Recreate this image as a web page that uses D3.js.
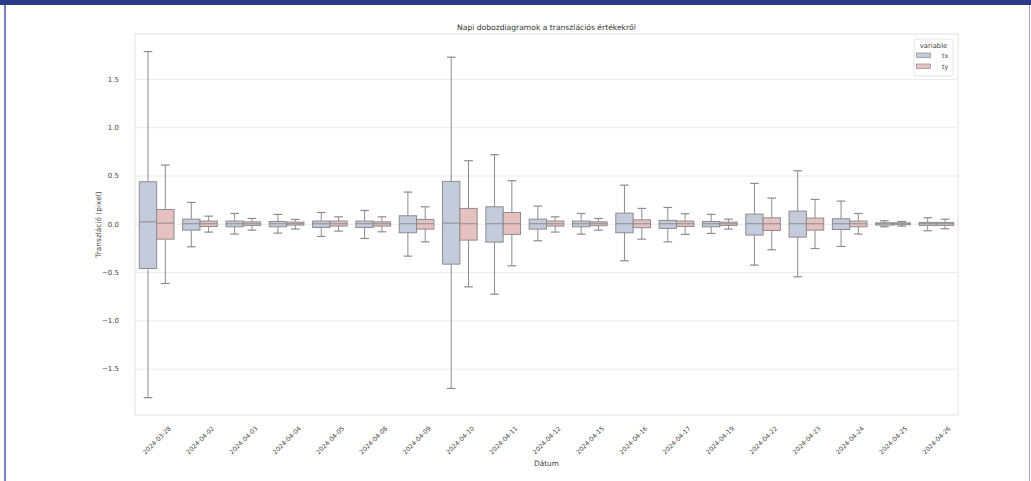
<!DOCTYPE html>
<html>
<head>
<meta charset="utf-8">
<script src="https://cdn.jsdelivr.net/npm/d3@7/dist/d3.min.js"></script>
<style>
  body { margin: 0; background: #fff; }
  svg { display: block; }
  text { font-family: "DejaVu Sans", sans-serif; }
</style>
</head>
<body>
<svg id="chart" width="1031" height="481"></svg>
<script>
// ---- data ----
const categories = ["2024-03-28","2024-04-02","2024-04-03","2024-04-04","2024-04-05","2024-04-08","2024-04-09","2024-04-10","2024-04-11","2024-04-12","2024-04-15","2024-04-16","2024-04-17","2024-04-19","2024-04-22","2024-04-23","2024-04-24","2024-04-25","2024-04-26"];
const seriesNames = ["tx", "ty"];
// [whisker low, q1, median, q3, whisker high]
const txStats = [
  [-1.80, -0.463, 0.02, 0.435, 1.783],
  [-0.238, -0.066, 0.0, 0.048, 0.221],
  [-0.107, -0.031, 0.0, 0.028, 0.107],
  [-0.097, -0.031, 0.0, 0.024, 0.097],
  [-0.131, -0.038, 0.0, 0.028, 0.117],
  [-0.152, -0.038, 0.0, 0.028, 0.138],
  [-0.335, -0.093, 0.0, 0.083, 0.328],
  [-1.705, -0.418, 0.007, 0.439, 1.725],
  [-0.729, -0.19, 0.0, 0.176, 0.715],
  [-0.176, -0.055, 0.0, 0.048, 0.183],
  [-0.107, -0.031, 0.0, 0.028, 0.107],
  [-0.383, -0.093, 0.0, 0.11, 0.40],
  [-0.187, -0.048, 0.0, 0.035, 0.169],
  [-0.10, -0.031, 0.0, 0.024, 0.097],
  [-0.428, -0.117, 0.0, 0.10, 0.418],
  [-0.549, -0.138, 0.0, 0.131, 0.549],
  [-0.235, -0.059, 0.0, 0.052, 0.235],
  [-0.031, -0.014, 0.0, 0.01, 0.031],
  [-0.072, -0.017, 0.0, 0.014, 0.062]
];
const tyStats = [
  [-0.618, -0.159, 0.007, 0.148, 0.608],
  [-0.086, -0.028, 0.0, 0.028, 0.079],
  [-0.066, -0.017, 0.0, 0.02, 0.055],
  [-0.055, -0.014, 0.0, 0.017, 0.045],
  [-0.076, -0.024, 0.0, 0.028, 0.072],
  [-0.083, -0.024, 0.0, 0.02, 0.072],
  [-0.187, -0.055, 0.0, 0.045, 0.176],
  [-0.653, -0.169, 0.0, 0.159, 0.653],
  [-0.435, -0.11, 0.0, 0.117, 0.446],
  [-0.086, -0.024, 0.0, 0.028, 0.072],
  [-0.066, -0.02, 0.0, 0.02, 0.055],
  [-0.159, -0.041, 0.0, 0.041, 0.159],
  [-0.11, -0.028, 0.0, 0.028, 0.104],
  [-0.055, -0.017, 0.0, 0.017, 0.048],
  [-0.269, -0.069, 0.0, 0.062, 0.266],
  [-0.256, -0.066, 0.0, 0.059, 0.252],
  [-0.107, -0.031, 0.0, 0.028, 0.107],
  [-0.024, -0.01, 0.0, 0.01, 0.024],
  [-0.052, -0.017, 0.0, 0.014, 0.048]
];
const yTicks = [-1.5, -1.0, -0.5, 0.0, 0.5, 1.0, 1.5];
const seriesColors = ["#c3cbdc", "#e6c1c1"];

// ---- layout ----
const svg = d3.select("#chart");
const W = 1031, H = 481;
const plot = { left: 135, right: 958, top: 34, bottom: 415 };
const lineColor = "#8c8c8c";

svg.append("rect").attr("width", W).attr("height", H).attr("fill", "#fff");
// frame decorations
svg.append("rect").attr("x", 0).attr("y", 0).attr("width", W).attr("height", 5).attr("fill", "#2c3a8b");
svg.append("rect").attr("x", 4).attr("y", 5).attr("width", 2).attr("height", H - 5).attr("fill", "#7980c1");
svg.append("rect").attr("x", 1029).attr("y", 5).attr("width", 1).attr("height", H - 5).attr("fill", "#9aa0d0");

const x = d3.scaleBand().domain(categories).range([plot.left, plot.right]).padding(0);
const y = d3.scaleLinear().domain([-1.98, 1.965]).range([plot.bottom, plot.top]);
const hue = d3.scaleBand().domain(seriesNames).range([0, x.bandwidth() * 0.8]);
const hueOffset = x.bandwidth() * 0.1;

// grid
const yAxis = d3.axisLeft(y).tickValues(yTicks).tickSize(-(plot.right - plot.left)).tickPadding(15)
  .tickFormat(d => d3.format(".1f")(d).replace("-", "\u2212"));
const gy = svg.append("g").attr("transform", `translate(${plot.left},0)`).call(yAxis);
gy.select(".domain").remove();
gy.selectAll(".tick line").attr("stroke", "#ebebeb").attr("stroke-width", 1);
gy.selectAll(".tick text").attr("fill", "#444").attr("font-size", 7).attr("x", -16);

// plot border
svg.append("rect").attr("x", plot.left).attr("y", plot.top)
  .attr("width", plot.right - plot.left).attr("height", plot.bottom - plot.top)
  .attr("fill", "none").attr("stroke", "#e2e2e2").attr("stroke-width", 1);

// boxes
const allStats = { tx: txStats, ty: tyStats };
seriesNames.forEach((s, si) => {
  const g = svg.append("g");
  const boxes = g.selectAll("g.box").data(allStats[s].map((d, i) => ({ cat: categories[i], v: d })))
    .join("g").attr("class", "box");
  const bw = hue.bandwidth();
  const x0 = d => x(d.cat) + hueOffset + hue(s);
  const xc = d => x0(d) + bw / 2;
  const cap = bw * 0.5;
  // whiskers
  boxes.append("line").attr("x1", xc).attr("x2", xc).attr("y1", d => y(d.v[4])).attr("y2", d => y(d.v[3]))
    .attr("stroke", lineColor).attr("stroke-width", 1);
  boxes.append("line").attr("x1", xc).attr("x2", xc).attr("y1", d => y(d.v[1])).attr("y2", d => y(d.v[0]))
    .attr("stroke", lineColor).attr("stroke-width", 1);
  // caps
  boxes.append("line").attr("x1", d => xc(d) - cap / 2).attr("x2", d => xc(d) + cap / 2)
    .attr("y1", d => y(d.v[4])).attr("y2", d => y(d.v[4])).attr("stroke", lineColor).attr("stroke-width", 1.2);
  boxes.append("line").attr("x1", d => xc(d) - cap / 2).attr("x2", d => xc(d) + cap / 2)
    .attr("y1", d => y(d.v[0])).attr("y2", d => y(d.v[0])).attr("stroke", lineColor).attr("stroke-width", 1.2);
  // box
  boxes.append("rect").attr("x", x0).attr("width", bw)
    .attr("y", d => y(d.v[3])).attr("height", d => Math.max(1, y(d.v[1]) - y(d.v[3])))
    .attr("fill", seriesColors[si]).attr("stroke", lineColor).attr("stroke-width", 1);
  // median
  boxes.append("line").attr("x1", x0).attr("x2", d => x0(d) + bw)
    .attr("y1", d => y(d.v[2])).attr("y2", d => y(d.v[2])).attr("stroke", lineColor).attr("stroke-width", 1);
});

// x axis labels
const xAxis = d3.axisBottom(x).tickSize(0).tickPadding(0);
const gx = svg.append("g").attr("transform", `translate(0,${plot.bottom})`).call(xAxis);
gx.select(".domain").remove();
gx.selectAll(".tick text")
  .attr("fill", "#444").attr("font-size", 6.3)
  .attr("text-anchor", "middle").attr("dominant-baseline", "central")
  .attr("y", 0).attr("dy", 0)
  .attr("transform", "translate(0,25) rotate(-45)");

// titles
svg.append("text").attr("x", (plot.left + plot.right) / 2).attr("y", 30)
  .attr("text-anchor", "middle").attr("font-size", 7.6).attr("fill", "#333")
  .text("Napi dobozdiagramok a transzlációs értékekről");
svg.append("text").attr("x", (plot.left + plot.right) / 2).attr("y", 466)
  .attr("text-anchor", "middle").attr("font-size", 7.4).attr("fill", "#444")
  .text("Dátum");
svg.append("text").attr("transform", `translate(101,${(plot.top + plot.bottom) / 2}) rotate(-90)`)
  .attr("text-anchor", "middle").attr("font-size", 7.4).attr("fill", "#444")
  .text("Transzláció (pixel)");

// legend
const lg = svg.append("g").attr("transform", "translate(914,39)");
lg.append("rect").attr("width", 39).attr("height", 37).attr("rx", 2)
  .attr("fill", "#fff").attr("stroke", "#e4e4e4").attr("stroke-width", 1);
lg.append("text").attr("x", 19.5).attr("y", 8.5).attr("text-anchor", "middle")
  .attr("font-size", 6.8).attr("fill", "#444").text("variable");
seriesNames.forEach((s, i) => {
  lg.append("rect").attr("x", 2.5).attr("y", 14 + i * 11).attr("width", 14).attr("height", 4.5)
    .attr("fill", seriesColors[i]).attr("stroke", lineColor).attr("stroke-width", 0.7);
  lg.append("text").attr("x", 28).attr("y", 18.8 + i * 11)
    .attr("font-size", 6.5).attr("fill", "#444").text(s);
});
</script>
</body>
</html>
